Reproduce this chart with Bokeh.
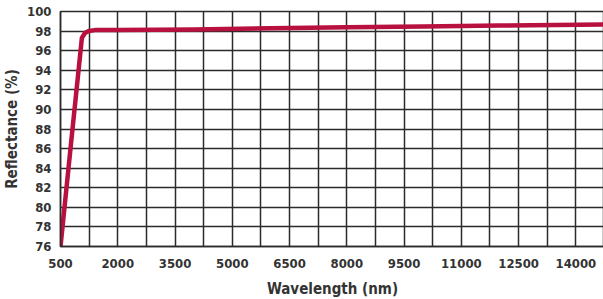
from bokeh.plotting import figure
from bokeh.models import FixedTicker, Range1d
from bokeh.embed import file_html
from bokeh.resources import INLINE

# Data
wavelength_nm = [500, 780, 1060, 1140, 1240, 1400, 2000, 3000, 4000, 6000, 8000, 10000, 12000, 14750]
reflectance_pct = [76.0, 86.7, 97.3, 97.8, 98.0, 98.1, 98.12, 98.14, 98.17, 98.28, 98.38, 98.48, 98.57, 98.67]

x_tick_values = [500, 2000, 3500, 5000, 6500, 8000, 9500, 11000, 12500, 14000]
x_grid_minor = [1250, 2750, 4250, 5750, 7250, 8750, 10250, 11750, 13250, 14750]
y_tick_values = [76, 78, 80, 82, 84, 86, 88, 90, 92, 94, 96, 98, 100]

p = figure(frame_width=544, frame_height=235, output_backend="svg", toolbar_location=None,
           x_range=Range1d(500, 14750), y_range=Range1d(76, 100),
           min_border_left=51, min_border_right=0, min_border_top=11, min_border_bottom=40)

FONT = "'DejaVu Sans Condensed', 'DejaVu Sans', sans-serif"
GRID = "#2b2b2b"

p.xaxis.ticker = FixedTicker(ticks=x_tick_values, minor_ticks=x_grid_minor)
p.yaxis.ticker = FixedTicker(ticks=y_tick_values)

for ax in (p.xaxis, p.yaxis):
    ax.major_tick_line_color = None
    ax.minor_tick_line_color = None
    ax.axis_line_color = GRID
    ax.axis_line_width = 1.5
    ax.major_label_text_font = FONT
    ax.major_label_text_font_size = "13px"
    ax.major_label_text_font_style = "bold"
    ax.major_label_text_color = "#333333"
    ax.axis_label_text_font = FONT
    ax.axis_label_text_font_size = "15px"
    ax.axis_label_text_font_style = "bold"
    ax.axis_label_text_color = "#333333"

p.xaxis.axis_label = "Wavelength (nm)"
p.yaxis.axis_label = "Reflectance (%)"
p.xaxis.major_label_standoff = 6
p.yaxis.major_label_standoff = 3
p.xaxis.axis_label_standoff = 9
p.yaxis.axis_label_standoff = 3

p.xgrid.grid_line_color = GRID
p.xgrid.grid_line_width = 1.5
p.xgrid.minor_grid_line_color = GRID
p.xgrid.minor_grid_line_width = 1.5
p.ygrid.grid_line_color = GRID
p.ygrid.grid_line_width = 1.5

p.outline_line_color = GRID
p.outline_line_width = 1.5

p.line(wavelength_nm, reflectance_pct, line_color="#B8103F", line_width=4.5, line_join="round")

open("out.html", "w").write(file_html(p, INLINE))
